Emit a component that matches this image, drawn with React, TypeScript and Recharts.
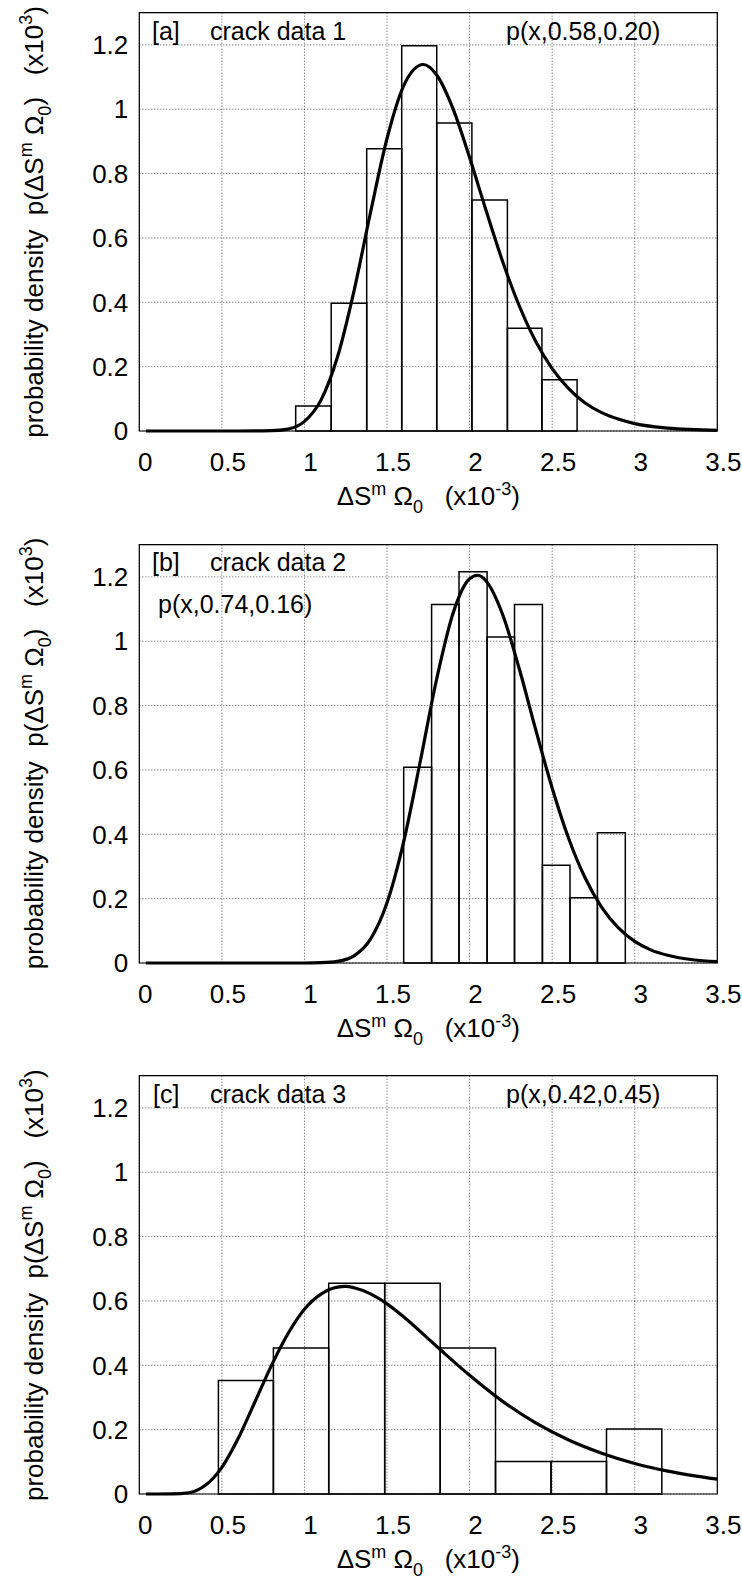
import React from 'react';
import { ComposedChart, Line, XAxis, YAxis, CartesianGrid, ReferenceArea } from 'recharts';

const X_TICKS = [0, 0.5, 1, 1.5, 2, 2.5, 3, 3.5];
const Y_TICKS = [0, 0.2, 0.4, 0.6, 0.8, 1, 1.2];

// [a] crack data 1 : histogram bin edges / densities, fitted curve
const EDGES_A = [0.947, 1.162, 1.377, 1.589, 1.801, 2.014, 2.229, 2.438, 2.651];
const DENS_A = [0.078, 0.397, 0.877, 1.197, 0.957, 0.718, 0.319, 0.159];
const CURVE_A_X = [0.04, 0.4, 0.6, 0.8, 0.9, 1.0, 1.1, 1.2, 1.3, 1.4, 1.5, 1.6, 1.72, 1.8, 1.9, 2.0, 2.1, 2.2, 2.3, 2.4, 2.5, 2.6, 2.7, 2.8, 2.9, 3.0, 3.2, 3.5];
const CURVE_A_Y = [0, 0, 0, 0.001, 0.006, 0.03, 0.096, 0.23, 0.435, 0.679, 0.909, 1.072, 1.139, 1.107, 1.001, 0.85, 0.685, 0.527, 0.39, 0.279, 0.194, 0.132, 0.087, 0.057, 0.037, 0.023, 0.009, 0.002];

// [b] crack data 2
const EDGES_B = [1.601, 1.77, 1.936, 2.106, 2.272, 2.441, 2.608, 2.774, 2.943];
const DENS_B = [0.608, 1.114, 1.216, 1.013, 1.114, 0.304, 0.203, 0.405];
const CURVE_B_X = [0.04, 0.5, 1.0, 1.1, 1.2, 1.3, 1.4, 1.5, 1.6, 1.7, 1.8, 1.9, 2.0, 2.05, 2.1, 2.2, 2.3, 2.4, 2.5, 2.6, 2.7, 2.8, 2.9, 3.0, 3.1, 3.2, 3.35, 3.5];
const CURVE_B_Y = [0, 0, 0, 0.001, 0.005, 0.022, 0.074, 0.187, 0.375, 0.623, 0.881, 1.087, 1.194, 1.205, 1.187, 1.083, 0.916, 0.726, 0.544, 0.387, 0.264, 0.173, 0.11, 0.067, 0.04, 0.024, 0.01, 0.004];

// [c] crack data 3
const EDGES_C = [0.479, 0.812, 1.147, 1.486, 1.822, 2.157, 2.493, 2.829, 3.164];
const DENS_C = [0.353, 0.454, 0.655, 0.655, 0.454, 0.101, 0.101, 0.202];
const CURVE_C_X = [0.04, 0.1, 0.2, 0.3, 0.4, 0.5, 0.6, 0.7, 0.8, 0.9, 1.0, 1.1, 1.2, 1.25, 1.3, 1.4, 1.5, 1.6, 1.8, 2.0, 2.2, 2.4, 2.6, 2.8, 3.0, 3.2, 3.5];
const CURVE_C_Y = [0, 0, 0.0002, 0.004, 0.027, 0.083, 0.174, 0.286, 0.399, 0.498, 0.574, 0.621, 0.643, 0.645, 0.641, 0.622, 0.591, 0.551, 0.459, 0.369, 0.288, 0.221, 0.168, 0.127, 0.095, 0.071, 0.046];

const FONT = '"Liberation Sans", Arial, Helvetica, sans-serif';
const PLOT_LEFT = 139.3;
const PLOT_W = 578;
const PLOT_H = 418.3;
const TOPS = [12.7, 544.3, 1076];

const tickStyle = { fontSize: 26, fill: '#000', fontFamily: FONT };

function Panel({ top, edges, dens, cx, cy }: { top: number; edges: number[]; dens: number[]; cx: number[]; cy: number[] }) {
  const data = cx.map((x, i) => ({ x, y: cy[i] }));
  return (
    <div style={{ position: 'absolute', left: 0, top: top - 12.7 }}>
      <ComposedChart
        width={742}
        height={531}
        data={data}
        margin={{ top: 12.7, right: 742 - PLOT_LEFT - PLOT_W, bottom: 0, left: 0 }}
      >
        <CartesianGrid stroke="#555" strokeDasharray="1 2" />
        <XAxis
          type="number"
          dataKey="x"
          domain={[0, 3.5]}
          ticks={X_TICKS}
          height={531 - 12.7 - PLOT_H}
          axisLine={false}
          tickLine={false}
          tickMargin={16}
          tick={{ ...tickStyle, dx: 6 }}
        />
        <YAxis
          type="number"
          domain={[0, 1.3]}
          ticks={Y_TICKS}
          width={PLOT_LEFT}
          axisLine={false}
          tickLine={false}
          tickMargin={5}
          tick={tickStyle}
        />
        {dens.map((d, i) => (
          <ReferenceArea key={i} x1={edges[i]} x2={edges[i + 1]} y1={0} y2={d} fill="none" stroke="#000" strokeWidth={1.5} />
        ))}
        <ReferenceArea x1={0} x2={3.5} y1={0} y2={1.3} fill="none" stroke="#000" strokeWidth={1.2} />
        <Line type="monotone" dataKey="y" stroke="#000" strokeWidth={3.2} dot={false} isAnimationActive={false} />
      </ComposedChart>
    </div>
  );
}

function XLabel({ y }: { y: number }) {
  return (
    <text x={PLOT_LEFT + PLOT_W / 2} y={y} textAnchor="middle" style={{ whiteSpace: 'pre' }}>
      ΔS<tspan dy={-10} fontSize={18}>m</tspan>
      <tspan dy={10}> Ω</tspan>
      <tspan dy={8} fontSize={18}>0</tspan>
      <tspan dy={-8}>{'   (x10'}</tspan>
      <tspan dy={-10} fontSize={18}>-3</tspan>
      <tspan dy={10}>)</tspan>
    </text>
  );
}

function YLabel({ cyMid }: { cyMid: number }) {
  return (
    <text transform={`translate(43, ${cyMid}) rotate(-90)`} textAnchor="middle" style={{ whiteSpace: 'pre' }}>
      {'probability density  p(ΔS'}
      <tspan dy={-11} fontSize={18}>m</tspan>
      <tspan dy={11}> Ω</tspan>
      <tspan dy={8} fontSize={18}>0</tspan>
      <tspan dy={-8}>{')   (x10'}</tspan>
      <tspan dy={-11} fontSize={18}>3</tspan>
      <tspan dy={11}>)</tspan>
    </text>
  );
}

export default function App() {
  const panels = [
    { edges: EDGES_A, dens: DENS_A, cx: CURVE_A_X, cy: CURVE_A_Y },
    { edges: EDGES_B, dens: DENS_B, cx: CURVE_B_X, cy: CURVE_B_Y },
    { edges: EDGES_C, dens: DENS_C, cx: CURVE_C_X, cy: CURVE_C_Y },
  ];
  return (
    <div style={{ position: 'absolute', left: 0, top: 0, width: 742, height: 1585, background: '#fff' }}>
      {panels.map((p, i) => (
        <Panel key={i} top={TOPS[i]} {...p} />
      ))}
      <svg width={742} height={1585} style={{ position: 'absolute', left: 0, top: 0, pointerEvents: 'none' }} fontFamily={FONT} fontSize={26} fill="#000">
        {TOPS.map((t, i) => (
          <g key={i}>
            <XLabel y={t + PLOT_H + 74} />
            <YLabel cyMid={t + PLOT_H / 2} />
          </g>
        ))}
        {/* panel annotations */}
        <g fontSize={25}>
          <text x={152} y={TOPS[0] + 27}>[a]</text>
          <text x={210} y={TOPS[0] + 27}>crack data 1</text>
          <text x={506} y={TOPS[0] + 27}>p(x,0.58,0.20)</text>

          <text x={152} y={TOPS[1] + 27}>[b]</text>
          <text x={210} y={TOPS[1] + 27}>crack data 2</text>
          <text x={158} y={TOPS[1] + 69}>p(x,0.74,0.16)</text>

          <text x={153} y={TOPS[2] + 27}>[c]</text>
          <text x={210} y={TOPS[2] + 27}>crack data 3</text>
          <text x={506} y={TOPS[2] + 27}>p(x,0.42,0.45)</text>
        </g>
      </svg>
    </div>
  );
}
